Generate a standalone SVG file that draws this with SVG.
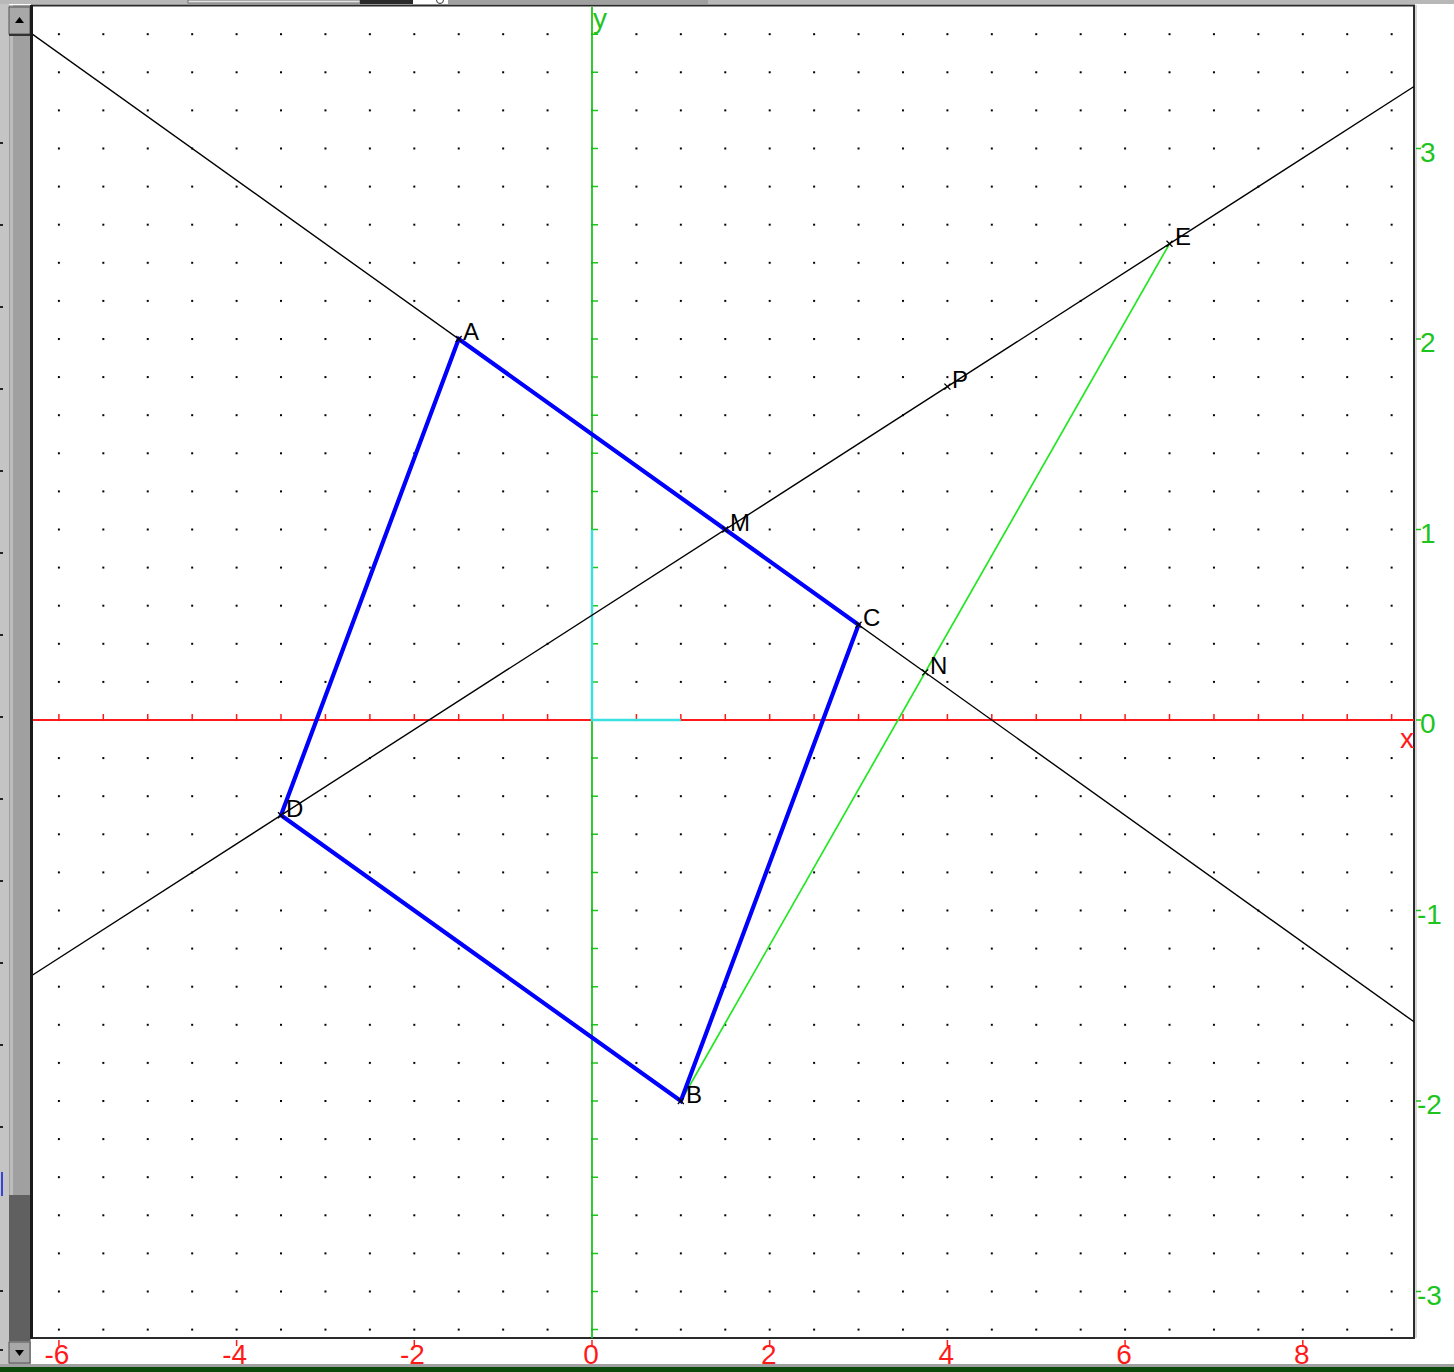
<svg xmlns="http://www.w3.org/2000/svg" width="1454" height="1372" viewBox="0 0 1454 1372">
<style>
.lbl{font-family:"Liberation Sans",Arial,sans-serif;font-size:24px;fill:#000}
.ax{font-family:"Liberation Sans",Arial,sans-serif;font-size:28px}
.xl{fill:#ff1a1a}
.yl{fill:#1ec41e}
.thin{fill:none;stroke:#000;stroke-width:1.4}
</style>
<defs>
<pattern id="dots" patternUnits="userSpaceOnUse" x="57.9" y="33.2" width="44.425" height="38.1">
<rect x="0" y="0" width="2" height="2" fill="#000"/>
</pattern>
<clipPath id="plot"><rect x="33" y="7" width="1381" height="1331"/></clipPath>
<path id="mk" d="M-3 -3L3 3M-3 3L3 -3" stroke="#000" stroke-width="1.3" fill="none"/>
</defs>
<rect x="0" y="0" width="1454" height="1372" fill="#fff"/>
<!-- top strip -->
<g id="topbar">
<rect x="0" y="0" width="1454" height="4" fill="#b8b8b8"/>
<rect x="188" y="0" width="172" height="3" fill="#e4e4e4" stroke="#707070" stroke-width="1"/>
<rect x="360" y="0" width="53" height="4" fill="#2a2a2a"/>
<rect x="413" y="0" width="35" height="4" fill="#fff"/>
<circle cx="440" cy="0" r="3.5" fill="#fff" stroke="#333" stroke-width="1"/>
<rect x="448" y="0" width="260" height="4" fill="#a0a0a0"/>
</g>
<!-- left panel & scrollbar -->
<g id="scrollbar">
<rect x="0" y="4" width="9" height="1362" fill="#c4c4c4"/>
<path d="M0 143h3M0 225h3M0 307h3M0 389h3M0 471h3M0 553h3M0 635h3M0 717h3M0 799h3M0 881h3M0 963h3M0 1045h3M0 1127h3M0 1291h3M0 1350h3" stroke="#222" stroke-width="2"/>
<rect x="1" y="1172" width="2" height="24" fill="#3344dd"/>
<rect x="9" y="5" width="22" height="1362" fill="#a0a0a0"/>
<rect x="10" y="5" width="3" height="1190" fill="#bcbcbc"/>
<rect x="9" y="1195" width="21" height="146" fill="#606060"/>
<rect x="9" y="7" width="21" height="27" fill="#a8a8a8" stroke="#555" stroke-width="1"/>
<path d="M15 23L19.5 17L24 23Z" fill="#000"/>
<rect x="9" y="34" width="21" height="2" fill="#333"/>
<rect x="9" y="1342" width="21" height="21" fill="#a8a8a8" stroke="#555" stroke-width="1"/>
<path d="M15 1350L19.5 1356L24 1350Z" fill="#000"/>
<rect x="0" y="1364" width="1454" height="3" fill="#a0a0a0"/>
<rect x="0" y="1367" width="1454" height="5" fill="#0b4a0b"/>
</g>
<!-- plot frame -->
<rect x="32" y="5.5" width="1382" height="1332.5" fill="#fff" stroke="#2a2a2a" stroke-width="2"/>
<line x1="31.5" y1="5" x2="31.5" y2="1339" stroke="#1a1a1a" stroke-width="3"/>
<line x1="1416" y1="5" x2="1416" y2="1338" stroke="#c8c8c8" stroke-width="1.5"/>
<rect x="33" y="7" width="1380" height="1330" fill="url(#dots)"/>
<!-- axes -->
<g id="axes" clip-path="url(#plot)">
<line x1="33" y1="720" x2="1414" y2="720" stroke="#ff1a1a" stroke-width="1.8"/>
<path d="M58.9 714v6M103.3 714v6M147.75 714v6M192.2 714v6M236.6 714v6M281 714v6M325.45 714v6M369.9 714v6M414.3 714v6M458.7 714v6M503.15 714v6M547.6 714v6M636.4 714v6M680.85 714v6M725.3 714v6M769.7 714v6M814.1 714v6M858.55 714v6M903 714v6M947.4 714v6M991.8 714v6M1036.25 714v6M1080.7 714v6M1125.1 714v6M1169.5 714v6M1213.95 714v6M1258.4 714v6M1302.8 714v6M1347.2 714v6M1391.65 714v6" stroke="#ff1a1a" stroke-width="1.5"/>
<line x1="592" y1="7" x2="592" y2="1338" stroke="#1ec41e" stroke-width="1.8"/>
<path d="M592 34.2h6M592 72.3h6M592 110.4h6M592 148.5h6M592 186.6h6M592 224.7h6M592 262.8h6M592 300.9h6M592 339h6M592 377.1h6M592 415.2h6M592 453.3h6M592 491.4h6M592 529.5h6M592 567.6h6M592 605.7h6M592 643.8h6M592 681.9h6M592 758.1h6M592 796.2h6M592 834.3h6M592 872.4h6M592 910.5h6M592 948.6h6M592 986.7h6M592 1024.8h6M592 1062.9h6M592 1101h6M592 1139.1h6M592 1177.2h6M592 1215.3h6M592 1253.4h6M592 1291.5h6M592 1329.6h6" stroke="#1ec41e" stroke-width="1.5"/>
<path d="M592 529.5V720H680.85" fill="none" stroke="#38e0e0" stroke-width="2.4"/>
</g>
<!-- axis labels -->
<g id="axis-labels">
<path d="M58.9 1340v6M236.6 1340v6M414.3 1340v6M592 1340v6M769.7 1340v6M947.4 1340v6M1125.1 1340v6M1302.8 1340v6" stroke="#ff1a1a" stroke-width="1.5"/>
<g class="ax xl" text-anchor="middle">
<text x="57" y="1364">-6</text>
<text x="234.7" y="1364">-4</text>
<text x="412.4" y="1364">-2</text>
<text x="591" y="1364">0</text>
<text x="768.7" y="1364">2</text>
<text x="946.4" y="1364">4</text>
<text x="1124.1" y="1364">6</text>
<text x="1301.8" y="1364">8</text>
</g>
<text class="ax xl" x="1400" y="748">x</text>
<text class="ax yl" x="593" y="28">y</text>
<path d="M1416 148.5h5M1416 339h5M1416 529.5h5M1416 720h5M1416 910.5h5M1416 1101h5M1416 1291.5h5" stroke="#1ec41e" stroke-width="1.5"/>
<g class="ax yl">
<text x="1420" y="162">3</text>
<text x="1420" y="352">2</text>
<text x="1420" y="543">1</text>
<text x="1420" y="733">0</text>
<text x="1417" y="924">-1</text>
<text x="1417" y="1114">-2</text>
<text x="1417" y="1305">-3</text>
</g>
</g>
<!-- connectors -->
<g id="connectors" clip-path="url(#plot)">
<line id="line-AC" class="thin" x1="32" y1="34" x2="1414" y2="1021.8"/>
<line id="line-DE" class="thin" x1="32" y1="975.4" x2="1414" y2="86.5"/>
<line id="seg-BE" x1="680.85" y1="1101" x2="1169.5" y2="243.75" stroke="#22e622" stroke-width="1.7"/>
<path id="quad-ACBD" d="M458.7 339L858.55 624.75L680.85 1101L281 815.25Z" fill="none" stroke="#0000ff" stroke-width="4.2" stroke-linejoin="miter"/>
</g>
<!-- points -->
<g id="node-A"><use href="#mk" x="458.7" y="339"/><text class="lbl" x="463" y="340">A</text></g>
<g id="node-B"><use href="#mk" x="680.85" y="1101"/><text class="lbl" x="686" y="1103">B</text></g>
<g id="node-C"><use href="#mk" x="858.55" y="624.75"/><text class="lbl" x="863" y="626">C</text></g>
<g id="node-D"><use href="#mk" x="281" y="815.25"/><text class="lbl" x="286" y="817">D</text></g>
<g id="node-M"><use href="#mk" x="725.3" y="529.5"/><text class="lbl" x="730" y="531">M</text></g>
<g id="node-E"><use href="#mk" x="1169.5" y="243.75"/><text class="lbl" x="1175" y="245">E</text></g>
<g id="node-P"><use href="#mk" x="947.4" y="386.6"/><text class="lbl" x="952" y="388">P</text></g>
<g id="node-N"><use href="#mk" x="925.2" y="672.4"/><text class="lbl" x="930" y="674">N</text></g>
</svg>
